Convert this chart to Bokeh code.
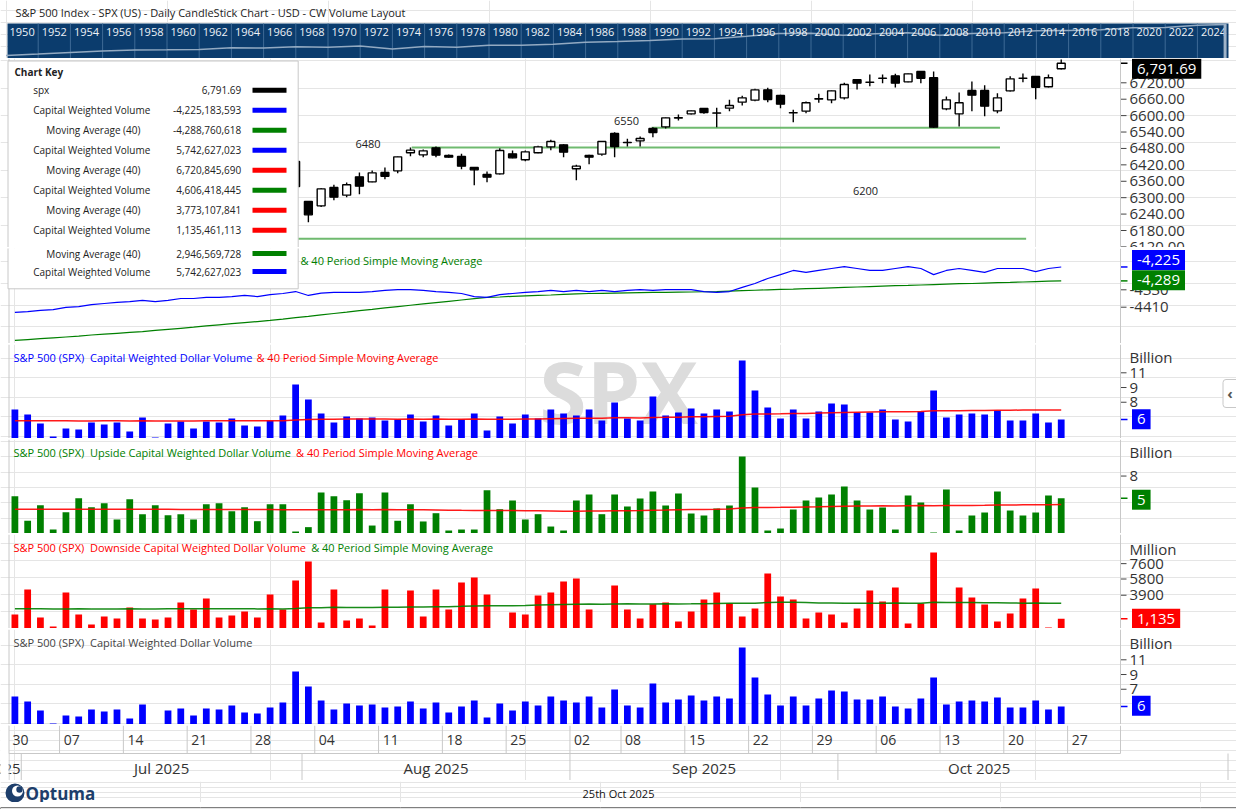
import pandas as pd
from bokeh.plotting import figure
from bokeh.layouts import column
from bokeh.models import Range1d, Label, BoxAnnotation, Span
from bokeh.core.properties import value
from bokeh.embed import file_html
from bokeh.resources import INLINE

FONT = "Open Sans"
W = 1236
SEP_C = "#c8c8c8"
AX_TXT = "#333333"
NAVY = "#0b3c6d"
NB = "\u00a0"

# ---------------- data ----------------
HOLIDAYS = ["2025-07-04", "2025-09-01"]
dates = [d for d in pd.bdate_range("2025-06-30", "2025-10-24") if d.strftime("%Y-%m-%d") not in HOLIDAYS]
N = len(dates)
xs = list(range(N))

spx_open = [6193, 6187, 6193, 6239, 6259, 6233, 6235, 6266, 6256, 6255, 6291, 6246, 6268, 6307, 6304, 6307, 6326, 6368, 6371, 6397, 6409, 6375, 6432,
            6286, 6270.2, 6337.2, 6309.2, 6376.2, 6357.9, 6392.1, 6398.1, 6464.0, 6456.6, 6482.2, 6454.2, 6450.6, 6410.3, 6384.7, 6387.2, 6460.3, 6438.4,
            6464.0, 6485.9, 6493.2, 6405.5, 6454.2, 6459.1, 6534.6, 6501.2, 6507.8, 6552.9, 6559.0, 6592.0, 6606.5, 6626.0, 6609.5, 6627.3, 6649.2, 6656.5,
            6694.3, 6673.6, 6610.5, 6616.3, 6661.0, 6657.7, 6665.0, 6730.9, 6722.5, 6736.5, 6745.5, 6723.5, 6761.3, 6738.2, 6624.8, 6606.5, 6691.9, 6691.9,
            6617.5, 6690.6, 6737.2, 6743.0, 6705.3, 6771.1]
spx_high = [6215, 6210, 6227, 6284, 6262, 6242, 6269, 6290, 6266, 6272, 6302, 6274, 6303, 6315, 6336, 6316, 6360, 6381, 6390, 6401, 6409, 6402, 6434,
            6288, 6335, 6347.0, 6355.5, 6392.1, 6399.4, 6410.3, 6451, 6483.5, 6476.1, 6487.1, 6457.9, 6460.3, 6411, 6395.7, 6481.0, 6472.5, 6472.5,
            6489.6, 6511.5, 6495, 6420.1, 6456.6, 6507, 6539.5, 6515.1, 6523.7, 6557.8, 6593, 6604.1, 6619, 6627, 6628.5, 6657.7, 6672.4, 6697.9,
            6701.6, 6676, 6621.2, 6651.6, 6679.7, 6692, 6719.9, 6732, 6750.4, 6750.4, 6752.8, 6754, 6762.5, 6761.3, 6669.9, 6684.5, 6724.8, 6711.4,
            6682.1, 6744.3, 6754.0, 6745, 6750.4, 6805.2]
spx_low = [6178, 6177, 6188, 6237, 6201, 6217, 6225, 6250, 6246, 6247, 6241, 6202, 6265, 6285, 6303, 6282, 6314, 6360, 6365, 6376, 6360, 6346, 6336,
           6210.5, 6266, 6290.9, 6301.9, 6312.8, 6356, 6367.7, 6389.6, 6451.8, 6448.1, 6448.1, 6445.7, 6404.2, 6345.7, 6356.7, 6385, 6444.5, 6433.5,
           6462, 6473.7, 6448.1, 6364.0, 6422.5, 6453.0, 6448.1, 6487.1, 6487.1, 6521.2, 6552.9, 6582.2, 6604, 6606.5, 6557.8, 6616.3, 6637.0, 6652.9,
           6649.2, 6627.3, 6576.1, 6609.0, 6646.8, 6645.5, 6659.0, 6695.5, 6707.7, 6718.7, 6702.8, 6722, 6718.7, 6556, 6620, 6560.2, 6616.3, 6598.0,
           6609.0, 6688, 6722.3, 6660.2, 6703, 6769]
spx_close = [6205, 6198, 6227, 6279, 6230, 6226, 6263, 6280, 6260, 6269, 6244, 6264, 6297, 6297, 6306, 6309, 6359, 6363, 6389, 6390, 6371, 6362, 6341,
             6237.3, 6332.3, 6301.9, 6347.0, 6342.1, 6390.8, 6378.6, 6449.3, 6473.7, 6471.3, 6455.4, 6448.1, 6415.2, 6401.8, 6375.0, 6472.5, 6445.7, 6467.6,
             6485.9, 6505.4, 6466.4, 6415.2, 6448.1, 6505.4, 6487.1, 6502.0, 6516.4, 6538.3, 6591.9, 6590.9, 6617.5, 6611.4, 6609.0, 6637.0, 6665.0, 6694.3,
             6659.0, 6641.9, 6610.0, 6646.8, 6661.6, 6690.6, 6713.8, 6718.7, 6722.0, 6737.0, 6718.7, 6752.8, 6736.9, 6557.8, 6657.7, 6646.8, 6674.8, 6634.6,
             6665.0, 6734.5, 6736.6, 6704.0, 6738.2, 6791.69]

sup_level = [6149.5, 6483.5, 6556.0]
sup_x0 = [15.0, 31.1, 49.9]
sup_x1 = [79.25, 77.2, 77.2]
ann_text = ["6480", "6550", "6200"]
ann_x = [27.67, 47.93, 66.66]
ann_y = [6498, 6582, 6323]

cwv_line = [-4434, -4430, -4425, -4421, -4411, -4407, -4398, -4393, -4388, -4384, -4379, -4384, -4379, -4370, -4370, -4365, -4365, -4361, -4356, -4361, -4352, -4347, -4338,
            -4356, -4345, -4342, -4342, -4342, -4338, -4333, -4329, -4329, -4333, -4338, -4342, -4347, -4361, -4365, -4352, -4347, -4342, -4338, -4333, -4338,
            -4333, -4338, -4333, -4338, -4333, -4329, -4333, -4329, -4329, -4329, -4338, -4342, -4338, -4319, -4301, -4278, -4260, -4241, -4250,
            -4241, -4232, -4223, -4232, -4241, -4241, -4232, -4223, -4232, -4260, -4241, -4232, -4241, -4250, -4232, -4232, -4232, -4246, -4232, -4225]
cwv_ma = [-4563, -4559, -4555, -4551, -4547, -4543, -4538, -4534, -4530, -4526, -4522,
          -4517, -4512, -4507, -4502, -4496, -4491, -4486, -4481, -4476, -4471,
          -4465, -4458, -4452, -4445, -4439, -4433, -4426, -4420, -4413, -4407,
          -4401, -4395, -4389, -4383, -4377, -4371, -4365,
          -4363, -4360, -4358, -4356, -4354, -4351, -4349, -4347,
          -4346, -4345, -4344, -4343, -4342, -4342, -4341, -4340, -4339, -4338,
          -4336, -4334, -4332, -4330, -4328, -4327, -4325, -4323, -4321, -4319,
          -4317, -4315, -4313, -4311, -4310, -4308, -4306, -4304, -4302, -4301,
          -4299, -4297, -4296, -4294, -4292, -4290, -4289]

cwdv = [6.76, 6.25, 5.33, 4.01, 4.82, 4.72, 5.43, 5.23, 5.43, 4.52, 5.94, 3.91, 5.33, 5.54, 4.82, 5.54, 5.43, 5.84, 5.13, 5.03, 5.64, 6.15, 9.31,
        7.78, 6.35, 5.43, 6.05, 5.84, 5.94, 5.64, 5.74, 6.25, 5.54, 6.15, 5.13, 5.74, 6.35, 4.62, 6.05, 5.33, 6.25, 5.84, 6.76, 6.35, 6.15, 6.76,
        5.64, 7.47, 5.84, 5.64, 8.08, 6.15, 6.45, 6.86, 6.35, 6.76, 6.56, 11.75, 8.70, 6.96, 5.84, 6.76, 5.84, 6.56, 7.37, 7.27, 6.45, 6.45, 6.76,
        5.74, 5.54, 6.56, 8.70, 5.94, 6.25, 6.35, 6.25, 6.66, 5.64, 5.64, 6.35, 5.43, 5.74]
cwdv_ma = [5.62, 5.62, 5.61, 5.60, 5.60, 5.59, 5.59, 5.60, 5.60, 5.59,
           5.60, 5.58, 5.58, 5.59, 5.59, 5.60, 5.60, 5.61, 5.61, 5.60,
           5.61, 5.62, 5.70, 5.75, 5.77, 5.77, 5.78, 5.78, 5.78, 5.78,
           5.77, 5.78, 5.77, 5.78, 5.77, 5.77, 5.78, 5.76, 5.77, 5.77,
           5.78, 5.79, 5.82, 5.84, 5.86, 5.88, 5.88, 5.91, 5.91, 5.90,
           5.95, 5.96, 5.98, 6.01, 6.02, 6.05, 6.08, 6.22, 6.29, 6.31,
           6.32, 6.35, 6.36, 6.39, 6.43, 6.46, 6.48, 6.50, 6.52, 6.52,
           6.53, 6.55, 6.62, 6.63, 6.64, 6.66, 6.67, 6.68, 6.69, 6.70,
           6.71, 6.71, 6.72]

up_vol = [4.87, 1.66, 3.69, 0.52, 2.78, 4.61, 3.43, 3.95, 1.83, 4.48, 2.52, 3.69, 2.39, 2.52, 1.83, 3.83, 3.95, 2.91, 3.43, 1.61, 3.83, 3.83, 0.26,
          0.83, 5.35, 4.87, 4.35, 5.26, 1.04, 5.35, 1.66, 3.83, 1.57, 2.65, 0.39, 0.52, 0.52, 5.65, 3.17, 4.31, 1.83, 2.52, 0.91, 0.39, 4.31, 5.09,
          2.52, 5.09, 3.52, 4.57, 5.48, 3.66, 5.22, 2.61, 2.35, 3.26, 3.66, 10.05, 6.01, 0.39, 0.65, 3.13, 4.31, 4.70, 5.09, 6.14, 4.31, 3.13, 3.39,
          0.52, 4.96, 4.05, 0.13, 5.74, 0.39, 2.35, 2.74, 5.48, 3.00, 2.35, 2.74, 4.96, 4.61]
up_ma = [3.17, 3.17, 3.17, 3.16, 3.16, 3.16, 3.17, 3.17, 3.16, 3.16,
         3.16, 3.15, 3.15, 3.14, 3.14, 3.14, 3.13, 3.13, 3.12, 3.12,
         3.12, 3.11, 3.10, 3.09, 3.10, 3.11, 3.11, 3.12, 3.11, 3.12,
         3.11, 3.10, 3.09, 3.08, 3.05, 3.02, 3.00, 3.01, 3.00, 3.00,
         2.98, 2.96, 2.94, 2.92, 2.92, 2.93, 2.94, 2.96, 2.98, 3.00,
         3.04, 3.06, 3.10, 3.12, 3.14, 3.16, 3.20, 3.32, 3.40, 3.41,
         3.42, 3.44, 3.46, 3.48, 3.52, 3.56, 3.58, 3.59, 3.61, 3.60,
         3.63, 3.64, 3.62, 3.66, 3.66, 3.67, 3.69, 3.72, 3.73, 3.74,
         3.75, 3.76, 3.77]

down_vol = [1638, 4568, 1286, 232, 4216, 1638, 466, 1404, 1169, 2458, 1169, 1052, 1286, 3044, 2224, 3513, 1286, 1521, 1990, 1286, 3982, 2224, 5623,
            7850, 700, 4568, 935, 1169, 349, 4568, 20, 4451, 1404, 4568, 2224, 5388, 5974, 3982, 20, 1872, 1638, 3865, 4216, 5505, 5857, 2224,
            20, 5037, 2224, 1169, 2845, 3044, 818, 1990, 3396, 4216, 2927, 1404, 2341, 6443, 3748, 3396, 1169, 1872, 1638, 700, 2341, 4451, 3161,
            4802, 583, 2927, 8904, 35, 4802, 3630, 2810, 818, 1755, 3513, 4685, 115, 1135]
down_ma = [2310, 2310, 2305, 2300, 2300, 2305, 2300, 2300, 2300, 2305,
           2300, 2300, 2305, 2310, 2310, 2320, 2320, 2310, 2310, 2300,
           2310, 2300, 2350, 2430, 2430, 2480, 2470, 2470, 2460, 2500,
           2500, 2530, 2520, 2560, 2560, 2600, 2650, 2680, 2660, 2680,
           2700, 2740, 2780, 2820, 2850, 2860, 2850, 2880, 2890, 2880,
           2880, 2890, 2880, 2890, 2910, 2940, 2950, 2950, 2960, 3050,
           3080, 3080, 3060, 3000, 2990, 2960, 2950, 2960, 2970, 3000,
           2960, 2960, 3070, 3050, 3060, 3050, 3030, 3010, 2990, 2970,
           2980, 2960, 2947]

hist_year = [1950, 1952, 1954, 1956, 1958, 1960, 1962, 1964, 1966, 1968, 1970, 1972, 1974, 1976, 1978, 1980, 1982, 1984, 1986, 1988,
             1990, 1992, 1994, 1996, 1998, 2000, 2002, 2004, 2006, 2008, 2010, 2012, 2014, 2016, 2018, 2020, 2022, 2024, 2025.8]
hist_val = [20.4, 26.6, 35.9, 46.7, 55.2, 58.1, 63.1, 84.8, 80.3, 103.9, 92.2, 118.1, 68.6, 107.5, 96.1, 135.8, 140.6, 167.2, 242.2, 277.7,
            330.2, 435.7, 459.3, 740.7, 1229, 1320, 879.8, 1212, 1418, 903, 1258, 1426, 2059, 2239, 2507, 3756, 3840, 5882, 6791.69]
year_labels = list(range(1950, 2026, 2))

week_idx = [0, 4, 9, 14, 19, 24, 29, 34, 39, 44, 48, 53, 58, 63, 68, 73, 78, 83]
week_lbl = ["30", "07", "14", "21", "28", "04", "11", "18", "25", "02", "08", "15", "22", "29", "06", "13", "20", "27"]
month_start = [1, 23, 44, 65]
month_lbl = ["Jul 2025", "Aug 2025", "Sep 2025", "Oct 2025"]

key_names = ["spx", "Capital Weighted Volume", "Moving Average (40)", "Capital Weighted Volume", "Moving Average (40)",
             "Capital Weighted Volume", "Moving Average (40)", "Capital Weighted Volume", "Moving Average (40)", "Capital Weighted Volume"]
key_values = ["6,791.69", "-4,225,183,593", "-4,288,760,618", "5,742,627,023", "6,720,845,690",
              "4,606,418,445", "3,773,107,841", "1,135,461,113", "2,946,569,728", "5,742,627,023"]
key_colors = ["#000000", "#0000ff", "#008000", "#0000ff", "#ff0000", "#008000", "#ff0000", "#ff0000", "#008000", "#0000ff"]

# ---------------- geometry helpers (page pixels -> data) ----------------
SLOT = 12.76
X0 = 14.4


def dx(px):
    return (px - X0) / SLOT


xr = Range1d(dx(0), dx(W))
AXIS_X = dx(1120)


def ymap(T, H, y0, y1):
    return lambda py: y1 - (py - T) * (y1 - y0) / H


def base_fig(H, y0, y1, xrange=None, **kw):
    p = figure(width=W, height=H, x_range=xrange if xrange is not None else xr, y_range=Range1d(y0, y1),
               output_backend="svg", toolbar_location=None, x_axis_location=None, y_axis_location=None,
               min_border_left=0, min_border_right=0, min_border_top=0, min_border_bottom=0, **kw)
    p.outline_line_color = None
    p.background_fill_color = "white"
    p.border_fill_color = "white"
    return p


def edges(p):
    p.add_layout(Span(location=dx(8.5), dimension="height", line_color=SEP_C, line_width=1))
    p.add_layout(Span(location=AXIS_X, dimension="height", line_color=SEP_C, line_width=1))


def draw_axis(p, ticks, labels):
    n = len(ticks)
    p.segment(x0=[AXIS_X] * n, y0=ticks, x1=[dx(1126)] * n, y1=ticks, line_color="#444444", line_width=1)
    p.text(x=[dx(1129)] * n, y=ticks, text=labels, text_font=value(FONT), text_font_size=value("15px"),
           text_color=AX_TXT, text_align="left", text_baseline="middle")


def lab(p, x, y, text, size="10px", color="#222222", align="left", bold=False, level="annotation", **kw):
    l = Label(x=x, y=y, text=text, text_font=FONT, text_font_size=size, text_color=color, text_align=align,
              text_baseline="middle", text_font_style="bold" if bold else "normal", level=level, **kw)
    p.add_layout(l)
    return l


def vbox(p, y_box, y_val, text, bg):
    p.segment(x0=[AXIS_X], y0=[y_val], x1=[dx(1127)], y1=[y_val], line_color=bg, line_width=1.5)
    lab(p, dx(1131.5), y_box, text, size="15px", color="white", background_fill_color=bg,
        padding=dict(left=5, right=5, top=5, bottom=5))


def sep(key_gap=False):
    s = base_fig(1, 0, 1)
    s.quad(left=[dx(8)], right=[dx(W)], bottom=[0], top=[1], fill_color=SEP_C, line_color=None)
    if key_gap:
        s.quad(left=[dx(8.5)], right=[dx(296.7)], bottom=[0], top=[1], fill_color="white", line_color=None)
    return s


# ---------------- header ----------------
hy = lambda py: 20.0 * 2.718281828 ** ((55 - py) * 0.188)
yr_x = lambda px: 1950 + (px - 5.5) / 16.1
hdr = base_fig(58, hy(58), hy(0), xrange=Range1d(yr_x(0), yr_x(W)), y_axis_type="log")
hdr.quad(left=[yr_x(7)], right=[yr_x(1228)], bottom=[hy(58)], top=[hy(23)], fill_color=NAVY, line_color=None)
hdr.segment(x0=year_labels[1:], y0=[hy(58)] * (len(year_labels) - 1), x1=year_labels[1:], y1=[hy(23)] * (len(year_labels) - 1),
            line_color="#3e6a96", line_width=1)
hdr.line(hist_year, hist_val, line_color="#93aac2", line_width=1.5)
hdr.text(x=[y + 1.0 for y in year_labels], y=[hy(31)] * len(year_labels), text=[str(y) for y in year_labels],
         text_font=value(FONT), text_font_size=value("11px"), text_color="#eef2f7", text_align="center", text_baseline="middle")
hdr.segment(x0=[2025.72], y0=[hy(58)], x1=[2025.72], y1=[hy(24)], line_color="#9fb3c8", line_width=3)
lab(hdr, yr_x(15), hy(12), "S&P 500 Index - SPX (US) - Daily CandleStick Chart - USD - CW Volume Layout",
    size="11px", color="#222222")

# ---------------- price panel ----------------
P_T, P_H = 58, 189
pv = lambda py_: 6720 + (82.3 - py_) * 3.656
price = base_fig(P_H, pv(247), pv(58))
pY = ymap(P_T, P_H, pv(247), pv(58))
edges(price)
price_ticks = [6120, 6180, 6240, 6300, 6360, 6420, 6480, 6540, 6600, 6660, 6720]
draw_axis(price, price_ticks, ["%d.00" % t for t in price_ticks])
price.segment(x0=sup_x0, y0=sup_level, x1=sup_x1, y1=sup_level, line_color="#5fb35f", line_width=2, line_alpha=0.9)
price.segment(x0=xs, y0=spx_high, x1=xs, y1=spx_low, line_color="#000000", line_width=1.4)
b_top = [max(o, c) for o, c in zip(spx_open, spx_close)]
b_bot = [min(o, c) for o, c in zip(spx_open, spx_close)]
b_col = ["#ffffff" if c >= o else "#000000" for o, c in zip(spx_open, spx_close)]
price.vbar(x=xs, width=0.62, top=b_top, bottom=b_bot, fill_color=b_col, line_color="#000000", line_width=1.4)
price.text(x=ann_x, y=ann_y, text=ann_text, text_font=value(FONT), text_font_size=value("11px"), text_color="#222222",
           text_align="center", text_baseline="middle")
vbox(price, pY(68.3), spx_close[-1], "6,791.69", "#000000")

price.add_layout(BoxAnnotation(left=dx(7.5), right=dx(297.7), top=pY(60.5), bottom=pv(247) - 500,
                               fill_color="white", fill_alpha=1, line_color=SEP_C, line_alpha=1, line_width=1,
                               line_dash="solid", level="overlay"))
lab(price, dx(14), pY(71.7), "Chart Key", size="10px", bold=True, level="overlay")

# ---------------- CWV line panel ----------------
C_T, C_H = 248, 95
cv = lambda py_: -2999.2 - 4.6 * py_
cwv = base_fig(C_H, cv(343), cv(248))
cY = ymap(C_T, C_H, cv(343), cv(248))
edges(cwv)
draw_axis(cwv, [-4330, -4410], ["-4330", "-4410"])
cwv.line(xs, cwv_ma, line_color="#008000", line_width=1.2)
cwv.line(xs, cwv_line, line_color="#0000ff", line_width=1.2)
lab(cwv, dx(300), cY(260.3), "& 40 Period Simple Moving Average", size="11px", color="#008000")
vbox(cwv, cY(259.5), cwv_line[-1], "-4,225", "#0000ff")
vbox(cwv, cY(279.7), cwv_ma[-1], "-4,289", "#008000")
cwv.add_layout(BoxAnnotation(left=dx(7.5), right=dx(297.7), top=cv(248) + 500, bottom=cY(288.3),
                             fill_color="white", fill_alpha=1, line_color=SEP_C, line_alpha=1, line_width=1,
                             line_dash="solid", level="overlay"))

rows_y = [89.7, 109.7, 129.7, 149.7, 169.7, 189.7, 209.7, 229.7, 253.0, 271.0]
for k in range(10):
    fig_, Y = (price, pY) if k < 8 else (cwv, cY)
    yy = rows_y[k]
    indent = 45.7 if key_names[k].startswith("Moving") else 32.7
    lab(fig_, dx(indent), Y(yy), key_names[k], size="10px", level="overlay")
    lab(fig_, dx(240.7), Y(yy), key_values[k], size="10px", align="right", level="overlay")
    fig_.add_layout(BoxAnnotation(left=dx(252), right=dx(286), top=Y(yy - 2.5), bottom=Y(yy + 2.5),
                                  fill_color=key_colors[k], fill_alpha=1, line_color=None, level="overlay"))


def vol_panel(T, H, y0, y1, vals, col, ma, ma_col, ticks, tlabels, unit, unit_y, title1, c1, title2, c2, tx2,
              vtext, vy, wm=False):
    p = base_fig(H, y0, y1)
    Y = ymap(T, H, y0, y1)
    edges(p)
    if wm:
        lab(p, dx(618), Y(390), "SPX", size="86px", color="#dcdcdc", align="center", bold=True, level="underlay")
    p.vbar(x=xs, width=0.53, top=vals, bottom=0, fill_color=col, line_color=None)
    if ma is not None:
        p.line(xs, ma, line_color=ma_col, line_width=1.5, line_alpha=0.9)
    draw_axis(p, ticks, tlabels)
    lab(p, dx(13), Y(T + 12.7), title1, size="11px", color=c1)
    if title2:
        lab(p, dx(tx2), Y(T + 12.7), title2, size="11px", color=c2)
    lab(p, dx(1129), Y(unit_y), unit, size="15px", color=AX_TXT)
    vbox(p, Y(vy), vals[-1], vtext, col)
    return p, Y


p3, Y3 = vol_panel(344, 94, 5.74 + (419 - 438) / 9.81, 5.74 + (419 - 344) / 9.81, cwdv, "#0000ff", cwdv_ma, "#ff0000",
                   [7.5, 9, 10.5], ["8", "9", "11"], "Billion", 356.7,
                   "S&P 500 (SPX) " + NB + "Capital Weighted Dollar Volume", "#0000ff", "& 40 Period Simple Moving Average", "#ff0000", 256,
                   "6", 418.8, wm=True)
# collapse tab on the right edge
p3.add_layout(BoxAnnotation(left=dx(1222.5), right=dx(1245), top=Y3(379), bottom=Y3(407), fill_color="white", fill_alpha=1,
                            line_color=SEP_C, line_alpha=1, line_width=1, line_dash="solid", border_radius=3))
lab(p3, dx(1229.5), Y3(392.5), "\u2039", size="15px", color="#555555", align="center", bold=True)

p4, _ = vol_panel(439, 94, 0, 94 / 7.66, up_vol, "#008000", up_ma, "#ff0000",
                  [7.5], ["8"], "Billion", 451.7,
                  "S&P 500 (SPX) " + NB + "Upside Capital Weighted Dollar Volume", "#008000", "& 40 Period Simple Moving Average", "#ff0000", 295.6,
                  "5", 499.2)
p5, _ = vol_panel(534, 94, 0, 94 * 117.2, down_vol, "#ff0000", down_ma, "#008000",
                  [3900, 5800, 7600], ["3900", "5800", "7600"], "Million", 548,
                  "S&P 500 (SPX) " + NB + "Downside Capital Weighted Dollar Volume", "#ff0000", "& 40 Period Simple Moving Average", "#008000", 310.7,
                  "1,135", 618.3)
p6, _ = vol_panel(629, 95, 5.74 + (706 - 724) / 9.81, 5.74 + (706 - 629) / 9.81, cwdv, "#0000ff", None, None,
                  [7.5, 9, 10.5], ["7", "9", "11"], "Billion", 642.7,
                  "S&P 500 (SPX) " + NB + "Capital Weighted Dollar Volume", "#444444", None, None, 0,
                  "6", 705.3)

# ---------------- date axis ----------------
xa = base_fig(55, 0, 55)
xa.add_layout(Span(location=dx(8.5), dimension="height", line_color=SEP_C, line_width=1))
xa.segment(x0=[i - 0.5 for i in week_idx], y0=[55] * len(week_idx), x1=[i - 0.5 for i in week_idx], y1=[27] * len(week_idx),
           line_color=SEP_C, line_width=1)
xa.segment(x0=[dx(8)], y0=[27], x1=[AXIS_X], y1=[27], line_color=SEP_C, line_width=1)
xa.segment(x0=[AXIS_X], y0=[55], x1=[AXIS_X], y1=[27], line_color=SEP_C, line_width=1)
xa.segment(x0=[m - 0.5 for m in month_start] + [dx(1227.5)], y0=[27] * 5, x1=[m - 0.5 for m in month_start] + [dx(1227.5)],
           y1=[0] * 5, line_color=SEP_C, line_width=1)
xa.text(x=[i - 0.5 + 0.32 for i in week_idx], y=[41] * len(week_idx), text=week_lbl, text_font=value(FONT),
        text_font_size=value("14px"), text_color=AX_TXT, text_align="left", text_baseline="middle")
m_bounds = [m - 0.5 for m in month_start] + [AXIS_X]
xa.text(x=[(m_bounds[k] + m_bounds[k + 1]) / 2 for k in range(4)], y=[13] * 4, text=month_lbl, text_font=value(FONT),
        text_font_size=value("15px"), text_color=AX_TXT, text_align="center", text_baseline="middle")
xa.text(x=[month_start[0] - 0.5 - 0.05], y=[13], text=["Jun 2025"], text_font=value(FONT),
        text_font_size=value("15px"), text_color=AX_TXT, text_align="right", text_baseline="middle")
xa.add_layout(BoxAnnotation(left=dx(0), right=dx(8), top=56, bottom=-1, fill_color="white", fill_alpha=1, line_color=None))

# ---------------- footer ----------------
foot = base_fig(21, 0, 21, xrange=Range1d(0, W))
foot.circle(x=[14.5], y=[9.5], radius=9.5, fill_color="#1d3e6b", line_color=None)
foot.circle(x=[17], y=[11.5], radius=5.5, fill_color="white", line_color=None)
foot.circle(x=[19], y=[13], radius=3.2, fill_color="#1d3e6b", line_color=None)
foot.text(x=[25], y=[9.5], text=["Optuma"], text_font=value(FONT), text_font_size=value("17px"), text_font_style="bold",
          text_color="#1d3e6b", text_align="left", text_baseline="middle")
foot.text(x=[618], y=[9], text=["25th Oct 2025"], text_font=value(FONT), text_font_size=value("11px"),
          text_color="#111111", text_align="center", text_baseline="middle")

bottom_bar = base_fig(7, 0, 1, xrange=Range1d(0, W))
bottom_bar.background_fill_color = "#000000"
bottom_bar.border_fill_color = "#000000"

layout = column(hdr, price, sep(True), cwv, sep(), p3, sep(), p4, sep(), p5, sep(), p6, sep(), xa, sep(), foot, bottom_bar,
                spacing=0)
open("out.html", "w").write(file_html(layout, INLINE))
